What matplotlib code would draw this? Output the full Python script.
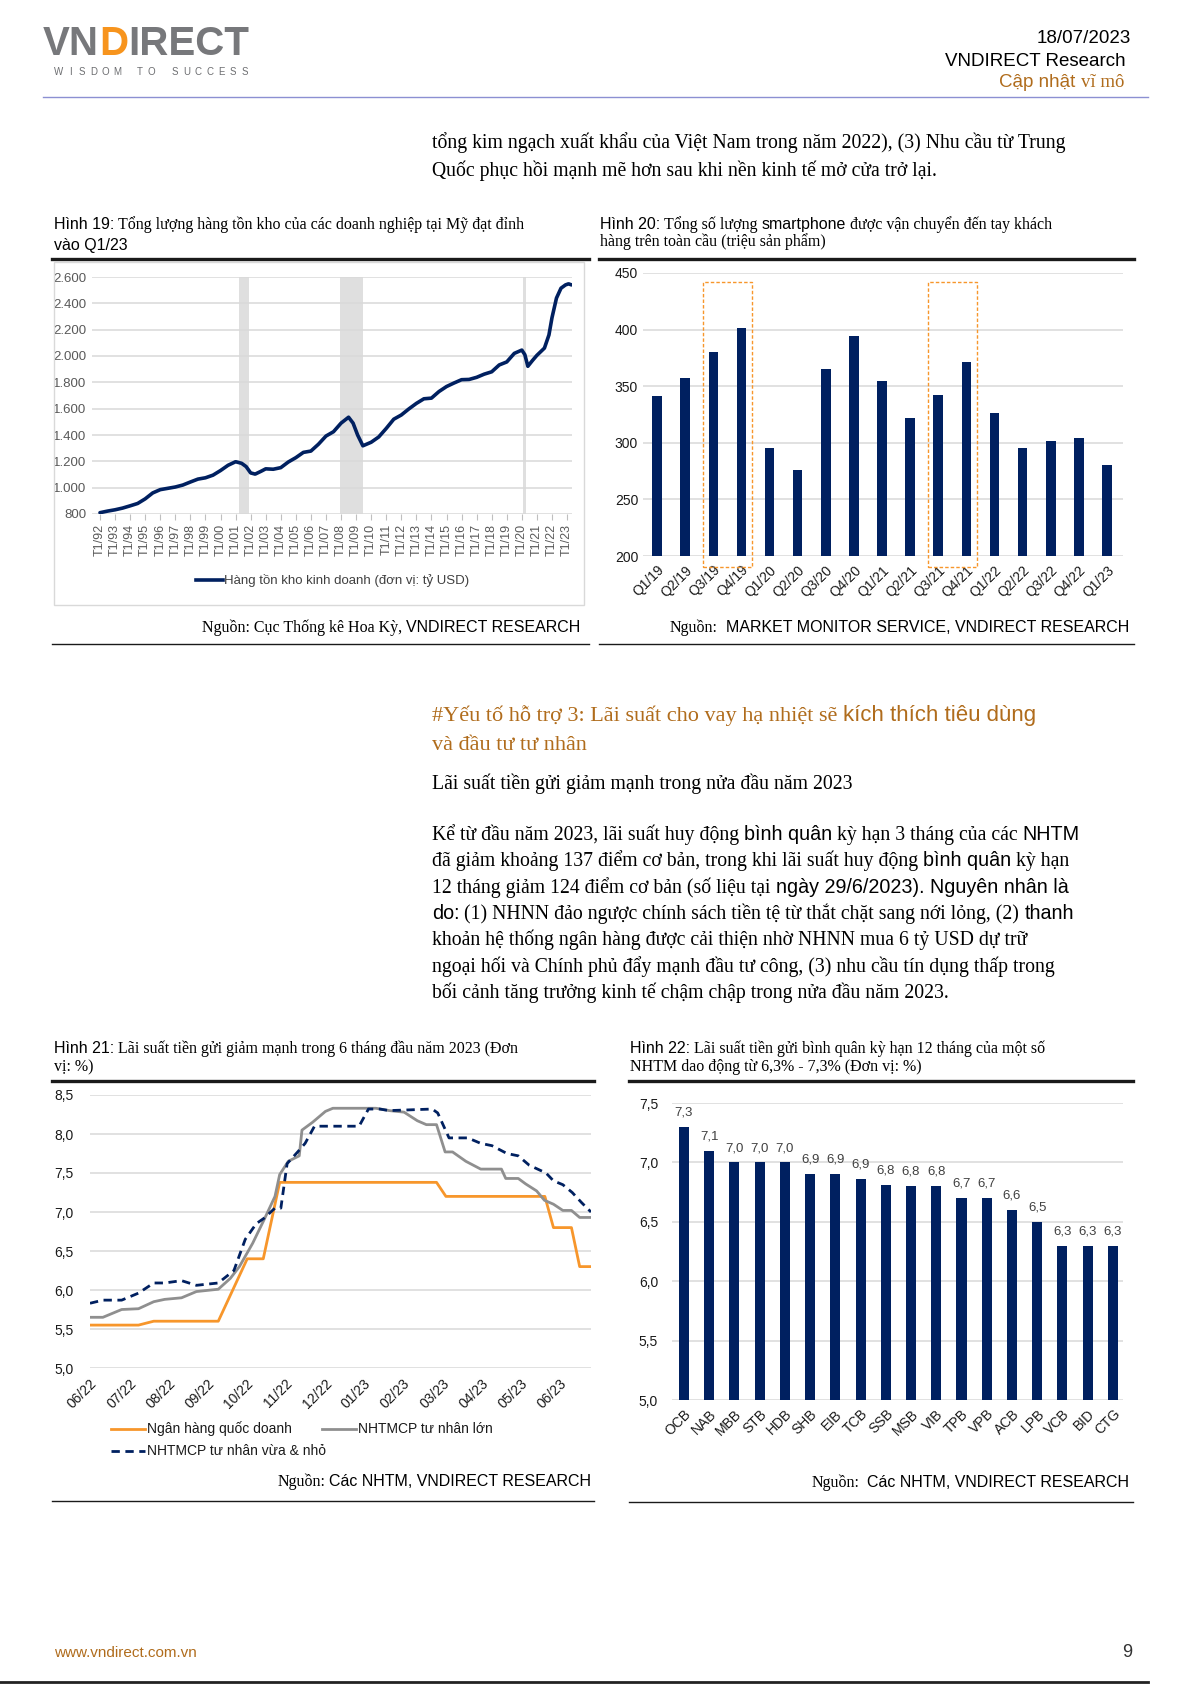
import numpy as np
import matplotlib
matplotlib.use('Agg')
import matplotlib.pyplot as plt
from matplotlib.lines import Line2D
from matplotlib.patches import Rectangle

W, H = 1191, 1685
SERIF = ['Liberation Serif', 'DejaVu Serif']
SANS = ['Liberation Sans', 'DejaVu Sans']
NARROW = ['Liberation Sans Narrow', 'Liberation Sans', 'DejaVu Sans']
NAVY = '#002060'
ORANGE = '#f7962b'
GREY_LINE = '#8f8f8f'
BROWN = '#b06c1c'
GRID = '#d9d9d9'

# Hinh 19: US business inventories (bn USD)
inv_year = [1992.0, 1992.5, 1993.0, 1993.5, 1994.0, 1994.5, 1995.0, 1995.5, 1996.0, 1996.5,
            1997.0, 1997.5, 1998.0, 1998.5, 1999.0, 1999.5, 2000.0, 2000.5, 2001.0, 2001.4,
            2001.7, 2002.0, 2002.3, 2002.7, 2003.0, 2003.5, 2004.0, 2004.5, 2005.0, 2005.5,
            2006.0, 2006.5, 2007.0, 2007.5, 2008.0, 2008.5, 2008.8, 2009.1, 2009.45, 2010.0,
            2010.5, 2011.0, 2011.5, 2012.0, 2012.5, 2013.0, 2013.5, 2014.0, 2014.5, 2015.0,
            2015.5, 2016.0, 2016.5, 2017.0, 2017.5, 2018.0, 2018.5, 2019.0, 2019.5, 2020.0,
            2020.2, 2020.4, 2020.7, 2021.0, 2021.5, 2021.8, 2022.0, 2022.3, 2022.6, 2022.9,
            2023.1, 2023.3]
inv_value = [810, 822, 832, 845, 862, 880, 915, 960, 985, 995,
             1005, 1020, 1043, 1065, 1075, 1095, 1130, 1170, 1197, 1185,
             1160, 1112, 1103, 1125, 1143, 1140, 1152, 1195, 1228, 1268,
             1278, 1330, 1392, 1425, 1490, 1535, 1490, 1400, 1318, 1345,
             1385, 1450, 1520, 1552, 1598, 1640, 1675, 1680, 1730, 1768,
             1795, 1820, 1822, 1838, 1862, 1880, 1932, 1955, 2020, 2045,
             2010, 1922, 1965, 2005, 2060, 2160, 2290, 2440, 2515, 2540,
             2548, 2540]
recessions = [(2001.2, 2001.9), (2007.9, 2009.45), (2020.08, 2020.3)]
inv_ticks = list(range(800, 2601, 200))
inv_years_lab = list(range(1992, 2024))

# Hinh 20: smartphone shipments (mn units)
phone_q = ['Q1/19', 'Q2/19', 'Q3/19', 'Q4/19', 'Q1/20', 'Q2/20', 'Q3/20', 'Q4/20', 'Q1/21',
           'Q2/21', 'Q3/21', 'Q4/21', 'Q1/22', 'Q2/22', 'Q3/22', 'Q4/22', 'Q1/23']
phone_units = [341, 357, 380, 401, 295, 276, 365, 394, 355, 322, 342, 371, 326, 295, 302, 304, 280]
phone_highlight = [(2, 3), (10, 11)]

# Hinh 21: deposit rates (months since 06/22)
month_lab = ['06/22', '07/22', '08/22', '09/22', '10/22', '11/22', '12/22',
             '01/23', '02/23', '03/23', '04/23', '05/23', '06/23']
sobd_m = [0, 1.24, 1.63, 3.28, 4.02, 4.43, 4.85, 8.86, 9.10, 11.63, 11.85, 12.31, 12.52, 12.81]
sobd_v = [5.55, 5.55, 5.60, 5.60, 6.40, 6.40, 7.38, 7.38, 7.20, 7.20, 6.80, 6.80, 6.30, 6.30]
large_m = [0, 0.33, 0.81, 1.24, 1.63, 1.91, 2.34, 2.72, 3.28, 3.59, 3.82, 4.16, 4.45, 4.73,
           4.85, 5.07, 5.35, 5.42, 5.69, 6.02, 6.21, 7.31, 7.65, 8.03, 8.37, 8.60, 8.86, 9.08,
           9.27, 9.61, 9.99, 10.52, 10.63, 10.95, 11.14, 11.42, 11.62, 11.85, 12.09, 12.31,
           12.52, 12.81]
large_v = [5.65, 5.65, 5.75, 5.76, 5.85, 5.88, 5.90, 5.98, 6.01, 6.15, 6.30, 6.60, 6.90, 7.20,
           7.48, 7.65, 7.72, 8.05, 8.15, 8.29, 8.33, 8.33, 8.30, 8.28, 8.17, 8.12, 8.12, 7.77,
           7.77, 7.65, 7.55, 7.55, 7.43, 7.43, 7.36, 7.27, 7.15, 7.10, 7.02, 7.02,
           6.93, 6.93]
small_m = [0, 0.33, 0.81, 1.24, 1.63, 1.91, 2.34, 2.72, 3.28, 3.68, 3.97, 4.25, 4.45, 4.73,
           4.88, 5.04, 5.31, 5.50, 5.74, 6.88, 7.12, 7.41, 7.65, 8.75, 8.89, 9.18, 9.66, 9.99,
           10.28, 10.66, 10.95, 11.23, 11.66, 11.85, 12.09, 12.33, 12.57, 12.81]
small_v = [5.83, 5.87, 5.87, 5.96, 6.09, 6.09, 6.12, 6.06, 6.09, 6.25, 6.65, 6.85, 6.92, 7.05,
           7.05, 7.62, 7.77, 7.88, 8.10, 8.10, 8.32, 8.32, 8.30, 8.32, 8.27, 7.95, 7.95, 7.88,
           7.85, 7.75, 7.72, 7.60, 7.50, 7.40, 7.35, 7.25, 7.12, 7.00]
series_names = ['Ngân hàng quốc doanh', 'NHTMCP tư nhân lớn', 'NHTMCP tư nhân vừa & nhỏ']

# Hinh 22: 12-month deposit rate by bank
banks = ['OCB', 'NAB', 'MBB', 'STB', 'HDB', 'SHB', 'EIB', 'TCB', 'SSB', 'MSB', 'VIB', 'TPB',
         'VPB', 'ACB', 'LPB', 'VCB', 'BID', 'CTG']
rates = [7.3, 7.1, 7.0, 7.0, 7.0, 6.9, 6.9, 6.86, 6.81, 6.8, 6.8, 6.7, 6.7, 6.6, 6.5, 6.3, 6.3, 6.3]


fig = plt.figure(figsize=(W / 100, H / 100), dpi=100)
fig.patch.set_facecolor('white')
renderer = fig.canvas.get_renderer()


def fx(x):
    return x / W


def fy(y):
    return 1 - y / H


def put(x, y, s, fam=SERIF, size=10, color='black', ha='left', va='baseline', **kw):
    return fig.text(fx(x), fy(y), s, family=fam, fontsize=size, color=color,
                    ha=ha, va=va, **kw)


def text_w(t):
    return t.get_window_extent(renderer).width


def rich(x, y, parts, size, color='black', align='left', **kw):
    # parts: list of (string, family); spaces measured separately
    items = []
    for s, fam in parts:
        probe1 = put(0, -100, 'x x', fam, size, **kw)
        probe2 = put(0, -100, 'xx', fam, size, **kw)
        sp = text_w(probe1) - text_w(probe2)
        probe1.remove()
        probe2.remove()
        lead = len(s) - len(s.lstrip(' '))
        trail = len(s) - len(s.rstrip(' '))
        core = s.strip(' ')
        t = put(0, y, core, fam, size, color, **kw) if core else None
        w = text_w(t) if t is not None else 0
        items.append((t, lead * sp, w, trail * sp))
    total = sum(a + b + c for _, a, b, c in items)
    pos = x - total if align == 'right' else x
    out = []
    for t, a, w, c in items:
        pos += a
        if t is not None:
            t.set_x(fx(pos))
            out.append(t)
        pos += w + c
    return out


def hline(x0, x1, y, color='black', lw=1.0):
    fig.add_artist(Line2D([fx(x0), fx(x1)], [fy(y), fy(y)], transform=fig.transFigure,
                          color=color, lw=lw))


def axes_px(x0, y0, x1, y1):
    return fig.add_axes([fx(x0), fy(y1), (x1 - x0) / W, (y1 - y0) / H])


def clean(ax):
    for s in ax.spines.values():
        s.set_visible(False)
    ax.set_facecolor('none')


# ---------------- header ----------------
logo = rich(43, 55, [('VN', SANS), ('D', SANS), ('IRECT', SANS)], 29, color='#77787b',
            weight='bold')
logo[1].set_color('#f7941d')
tagline = 'WISDOM TO SUCCESS'
for i, ch in enumerate(tagline):
    put(59 + i * 11.6, 75, ch, SANS, 7, '#6d6e71', ha='center')

put(1131, 43, '18/07/2023', SANS, 13.5, ha='right')
put(1126, 66, 'VNDIRECT Research', SANS, 13.5, ha='right')
rich(1124, 87, [('Cập nhật ', SANS), ('vĩ mô', SERIF)], 13.5, color=BROWN, align='right')
hline(43, 1148, 97, '#8c90d2', 1.0)

put(432, 148, 'tổng kim ngạch xuất khẩu của Việt Nam trong năm 2022), (3) Nhu cầu từ Trung',
    SERIF, 14.2)
put(432, 176, 'Quốc phục hồi mạnh mẽ hơn sau khi nền kinh tế mở cửa trở lại.', SERIF, 14.2)

TS = 11.5  # figure title size

# ---------------- Hinh 19 ----------------
rich(54, 229, [('Hình 19:', SANS), (' Tổng lượng hàng tồn kho của các doanh nghiệp tại Mỹ đạt đỉnh', SERIF)], TS)
put(54, 250, 'vào Q1/23', SANS, TS)
hline(52, 589, 259, '#1a1a1a', 2.4)
fig.add_artist(Rectangle((fx(54), fy(605)), (584 - 54) / W, (605 - 262) / H,
                         transform=fig.transFigure, fill=False, ec='#d9d9d9', lw=1))

ax = axes_px(92, 277, 572, 514)
clean(ax)
for a, b in recessions:
    ax.axvspan(a, b, color='#dfdfdf', lw=0, zorder=0)
ax.plot(inv_year, inv_value, color=NAVY, lw=2.6, zorder=3, solid_capstyle='round')
ax.set_xlim(1991.47, 2023.33)
ax.set_ylim(800, 2600)
ax.set_yticks(inv_ticks)
ax.set_yticklabels([f'{v:,}'.replace(',', '.') for v in inv_ticks])
ax.grid(axis='y', color=GRID, lw=1.1, zorder=1)
ax.set_axisbelow(True)
ax.set_xticks(inv_years_lab)
ax.set_xticklabels([f'T1/{y % 100:02d}' for y in inv_years_lab], rotation=90)
ax.tick_params(axis='y', length=0, pad=4, labelsize=9.5, labelcolor='#595959')
ax.tick_params(axis='x', length=4, width=0.8, color='#bfbfbf', pad=3, labelsize=9,
               labelcolor='#595959')
for lab in ax.get_xticklabels() + ax.get_yticklabels():
    lab.set_family(NARROW)

fig.add_artist(Line2D([fx(196), fx(223)], [fy(580), fy(580)], transform=fig.transFigure,
                      color=NAVY, lw=2.6))
put(224, 584, 'Hàng tồn kho kinh doanh (đơn vị: tỷ USD)', NARROW, 9.5, '#404040')
rich(580, 632, [('Nguồn: Cục Thống kê Hoa Kỳ, ', SERIF), ('VNDIRECT RESEARCH', SANS)], 11.5,
     align='right')
hline(52, 589, 644, '#1a1a1a', 1.0)

# ---------------- Hinh 20 ----------------
rich(600, 229, [('Hình 20:', SANS), (' Tổng số lượng ', SERIF), ('smartphone', SANS),
                (' được vận chuyển đến tay khách', SERIF)], TS)
put(600, 246, 'hàng trên toàn cầu (triệu sản phẩm)', SERIF, TS)
hline(599, 1134, 259, '#1a1a1a', 2.4)

ax = axes_px(643, 273, 1123, 556)
clean(ax)
xq = np.arange(len(phone_q))
ax.bar(xq, phone_units, width=0.34, color=NAVY, zorder=3)
ax.set_xlim(-0.5, 16.57)
ax.set_ylim(200, 450)
ax.set_yticks(range(200, 451, 50))
ax.grid(axis='y', color=GRID, lw=1.1, zorder=1)
ax.set_xticks(xq)
ax.set_xticklabels(phone_q, rotation=45, ha='right', rotation_mode='anchor')
ax.tick_params(length=0, labelsize=10, labelcolor='#1a1a1a')
ax.tick_params(axis='x', pad=5)
for lab in ax.get_xticklabels() + ax.get_yticklabels():
    lab.set_family(NARROW)
for i0, i1 in phone_highlight:
    ax.add_patch(Rectangle((i0 - 0.37, 190), (i1 - i0) + 0.74, 252, fill=False,
                           ec=ORANGE, lw=1.0, ls=(0, (2.5, 1.5)), clip_on=False, zorder=4))
rich(1129, 632, [('Nguồn:  ', SERIF), ('MARKET MONITOR SERVICE, VNDIRECT RESEARCH', SANS)],
     11.5, align='right')
hline(599, 1134, 644, '#1a1a1a', 1.0)

# ---------------- body text ----------------
rich(432, 721, [('#Yếu tố hỗ trợ 3: Lãi suất cho vay hạ nhiệt sẽ ', SERIF),
                ('kích thích tiêu dùng', SANS)], 16, color=BROWN)
put(432, 750, 'và đầu tư tư nhân', SERIF, 16, BROWN)
put(432, 789, 'Lãi suất tiền gửi giảm mạnh trong nửa đầu năm 2023', SERIF, 14.2)

para = [
    [('Kể từ đầu năm 2023, lãi suất huy động ', SERIF), ('bình quân', SANS),
     (' kỳ hạn 3 tháng của các ', SERIF), ('NHTM', SANS)],
    [('đã giảm khoảng 137 điểm cơ bản, trong khi lãi suất huy động ', SERIF),
     ('bình quân', SANS), (' kỳ hạn', SERIF)],
    [('12 tháng giảm 124 điểm cơ bản (số liệu tại ', SERIF),
     ('ngày 29/6/2023). Nguyên nhân là', SANS)],
    [('do:', SANS), (' (1) NHNN đảo ngược chính sách tiền tệ từ thắt chặt sang nới lỏng, (2) ', SERIF),
     ('thanh', SANS)],
    [('khoản hệ thống ngân hàng được cải thiện nhờ NHNN mua 6 tỷ USD dự trữ', SERIF)],
    [('ngoại hối và Chính phủ đẩy mạnh đầu tư công, (3) nhu cầu tín dụng thấp trong', SERIF)],
    [('bối cảnh tăng trưởng kinh tế chậm chập trong nửa đầu năm 2023.', SERIF)],
]
for k, parts in enumerate(para):
    rich(432, 840 + k * 26.3, parts, 14.2)

# ---------------- Hinh 21 ----------------
rich(54, 1053, [('Hình 21:', SANS),
                (' Lãi suất tiền gửi giảm mạnh trong 6 tháng đầu năm 2023 (Đơn', SERIF)], TS)
put(54, 1071, 'vị: %)', SERIF, TS)
hline(52, 594, 1081, '#1a1a1a', 2.4)

ax = axes_px(90, 1095, 591, 1368)
clean(ax)
ax.plot(sobd_m, sobd_v, color=ORANGE, lw=2.0, zorder=3)
ax.plot(large_m, large_v, color=GREY_LINE, lw=2.0, zorder=3)
ax.plot(small_m, small_v, color=NAVY, lw=2.0, ls=(0, (3, 2)), zorder=4)
ax.set_xlim(0, 12.81)
ax.set_ylim(5.0, 8.5)
ax.set_yticks(np.arange(5.0, 8.51, 0.5))
ax.set_yticklabels([f'{v:.1f}'.replace('.', ',') for v in np.arange(5.0, 8.51, 0.5)])
ax.grid(axis='y', color=GRID, lw=1.1, zorder=1)
ax.set_xticks(range(len(month_lab)))
ax.set_xticklabels(month_lab, rotation=45, ha='right', rotation_mode='anchor')
ax.tick_params(length=0, labelsize=10, labelcolor='#1a1a1a')
ax.tick_params(axis='y', pad=12)
ax.tick_params(axis='x', pad=6)
for lab in ax.get_xticklabels() + ax.get_yticklabels():
    lab.set_family(NARROW)

legend_items = [(111, 1429, ORANGE, '-', series_names[0]),
                (322, 1429, GREY_LINE, '-', series_names[1]),
                (111, 1451, NAVY, (0, (3, 2)), series_names[2])]
for lx, ly, c, ls, name in legend_items:
    fig.add_artist(Line2D([fx(lx), fx(lx + 34)], [fy(ly), fy(ly)], transform=fig.transFigure,
                          color=c, lw=2.0, ls=ls))
    put(lx + 36, ly + 4, name, NARROW, 10, '#1a1a1a')
rich(591, 1486, [('Nguồn: ', SERIF), ('Các NHTM, VNDIRECT RESEARCH', SANS)], 11.5,
     align='right')
hline(52, 594, 1501, '#1a1a1a', 1.0)

# ---------------- Hinh 22 ----------------
rich(630, 1053, [('Hình 22:', SANS),
                 (' Lãi suất tiền gửi bình quân kỳ hạn 12 tháng của một số', SERIF)], TS)
put(630, 1071, 'NHTM dao động từ 6,3% - 7,3% (Đơn vị: %)', SERIF, TS)
hline(629, 1133, 1081, '#1a1a1a', 2.4)

ax = axes_px(672, 1103, 1123, 1400)
clean(ax)
xb = np.arange(len(banks))
bars = ax.bar(xb, rates, width=0.4, color=NAVY, zorder=3)
for b, v in zip(bars, rates):
    ax.annotate(f'{v:.1f}'.replace('.', ','), (b.get_x() + b.get_width() / 2, v),
                xytext=(0, 6), textcoords='offset points', ha='center', va='bottom',
                fontsize=9.5, family=NARROW, color='#404040')
ax.set_xlim(-0.475, 17.4)
ax.set_ylim(5.0, 7.5)
ax.set_yticks(np.arange(5.0, 7.51, 0.5))
ax.set_yticklabels([f'{v:.1f}'.replace('.', ',') for v in np.arange(5.0, 7.51, 0.5)])
ax.grid(axis='y', color=GRID, lw=1.1, zorder=1)
ax.set_xticks(xb)
ax.set_xticklabels(banks, rotation=45, ha='right', rotation_mode='anchor')
ax.tick_params(length=0, labelsize=10, labelcolor='#1a1a1a')
ax.tick_params(axis='y', pad=10)
ax.tick_params(axis='x', pad=5)
for lab in ax.get_xticklabels() + ax.get_yticklabels():
    lab.set_family(NARROW)
rich(1129, 1487, [('Nguồn:  ', SERIF), ('Các NHTM, VNDIRECT RESEARCH', SANS)], 11.5,
     align='right')
hline(629, 1133, 1502, '#1a1a1a', 1.0)

# ---------------- footer ----------------
put(54, 1657, 'www.vndirect.com.vn', NARROW, 11, BROWN)
put(1132, 1657, '9', SANS, 13, '#333333', ha='right')
hline(0, 1148, 1682, '#222222', 2.0)

fig.savefig('out.png', dpi=100, facecolor='white')
